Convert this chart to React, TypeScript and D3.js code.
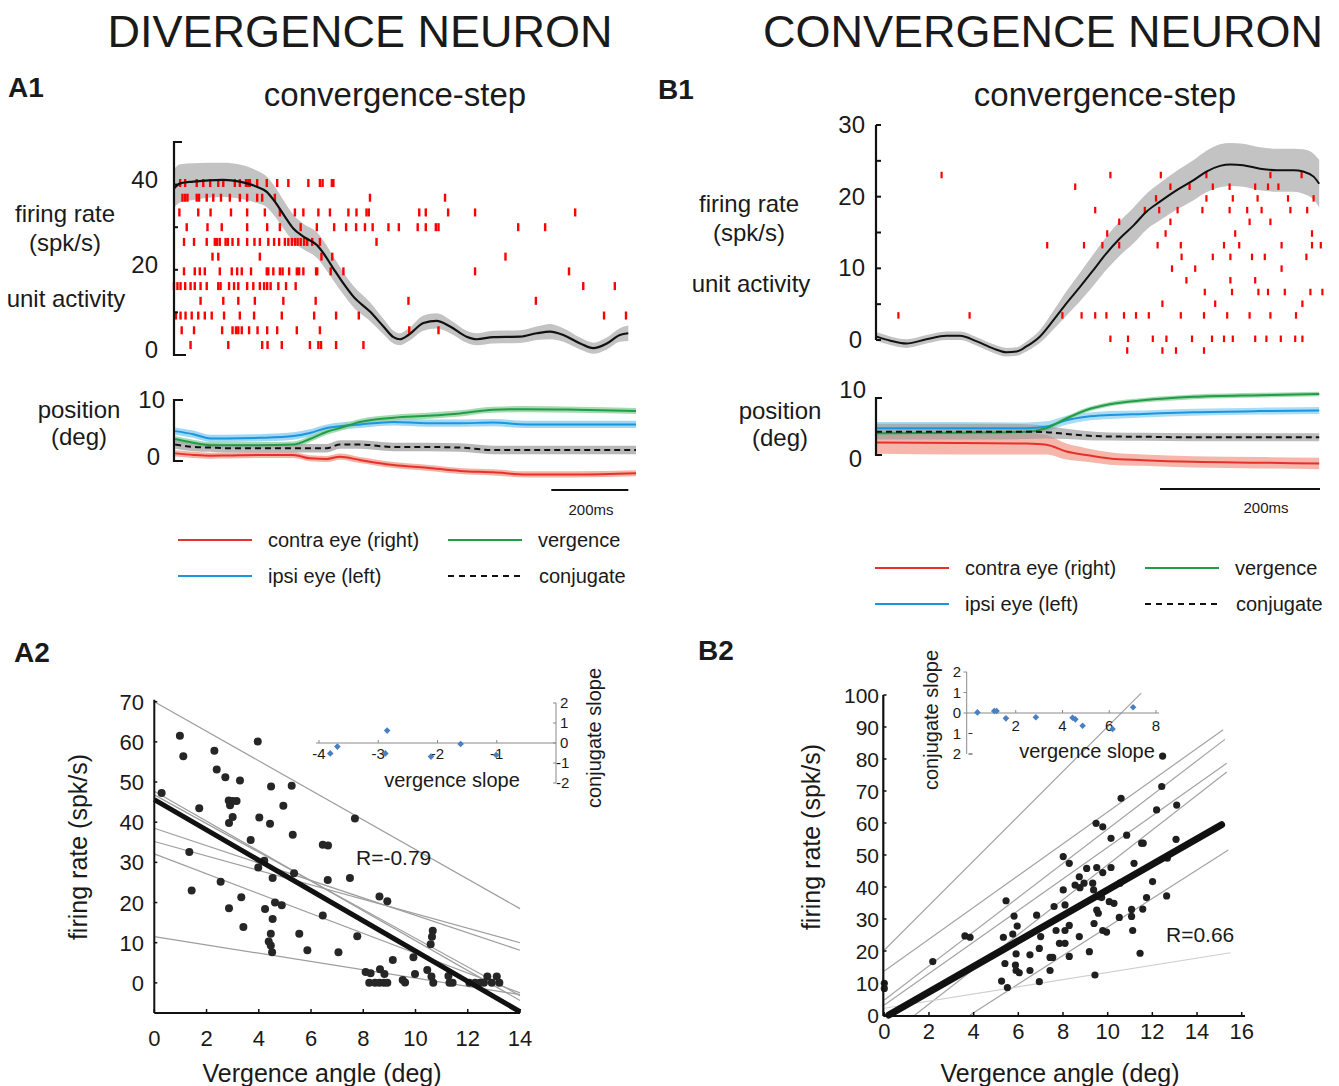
import React from 'react';
import * as d3 from 'd3';

const FONT = '"Liberation Sans", Arial, Helvetica, sans-serif';
const RED = '#e8302a';
const GREEN = '#1f9d48';
const BLUE = '#1b95dd';

// ---------- A1: divergence neuron, convergence step ----------
const a1RateTime = [0, 16, 50, 128, 171, 215, 241, 262, 288, 310, 336, 371, 388, 414, 440, 466, 509, 544, 570, 587, 609, 648, 682, 717, 760, 786, 829, 899, 942, 977, 1011, 1055, 1089, 1124, 1158, 1180];
const a1Rate = [39.1, 40.3, 40.7, 41.1, 40.7, 39.5, 38.3, 36.0, 32.5, 29.7, 27.8, 25.8, 23.9, 20.3, 16.8, 13.7, 10.2, 6.7, 4.2, 3.7, 4.7, 7.5, 8.0, 6.7, 4.3, 3.7, 4.2, 4.3, 5.1, 5.5, 4.7, 2.7, 1.6, 2.7, 4.7, 5.1];
const a1RateSem = [4.5, 4.5, 4.3, 4, 4, 3.8, 3.6, 3.5, 3.3, 3.2, 3, 3, 3, 2.8, 2.6, 2.5, 2.2, 1.8, 1.5, 1.4, 1.5, 1.8, 1.8, 1.6, 1.4, 1.4, 1.5, 1.5, 1.6, 1.8, 1.6, 1.4, 1.3, 1.4, 1.6, 1.8];
const a1Spikes = [
  [16, 29, 59, 76, 94, 115, 128, 158, 171, 187, 193, 197, 216, 241, 268, 297, 349, 379, 386, 410, 414],
  [22, 29, 35, 59, 65, 85, 102, 122, 145, 171, 190, 216, 229, 262, 509, 704],
  [14, 63, 95, 148, 190, 236, 275, 314, 336, 375, 405, 453, 474, 500, 506, 637, 654, 712, 782, 1042],
  [33, 87, 124, 190, 242, 275, 329, 371, 416, 447, 473, 496, 516, 557, 584, 633, 654, 680, 687, 894, 964],
  [26, 52, 85, 106, 112, 119, 134, 140, 152, 167, 190, 209, 223, 245, 260, 273, 288, 297, 306, 314, 321, 329, 338, 346, 359, 379, 526],
  [100, 115, 223, 383, 411, 861],
  [26, 54, 67, 80, 119, 150, 164, 176, 200, 241, 245, 258, 275, 282, 299, 319, 325, 336, 369, 372, 407, 440, 782, 1026],
  [0, 9, 17, 29, 43, 54, 69, 85, 115, 121, 143, 156, 167, 190, 206, 223, 234, 242, 251, 271, 291, 316, 1063, 1145],
  [69, 128, 167, 210, 284, 368, 609, 940],
  [5, 17, 30, 46, 63, 80, 98, 130, 171, 208, 280, 364, 421, 480, 1117, 1174],
  [20, 52, 125, 152, 161, 167, 176, 195, 217, 242, 268, 319, 379, 611, 687],
  [43, 141, 229, 243, 280, 353, 375, 382, 421, 492],
];
const a1PosTime = [3, 50, 94, 137, 223, 310, 353, 397, 431, 483, 570, 656, 743, 829, 916, 1046, 1200];
const a1Verg = [3.6, 3.0, 2.6, 2.6, 2.6, 2.7, 3.6, 4.8, 5.4, 6.4, 7.1, 7.4, 7.8, 8.4, 8.5, 8.4, 8.2];
const a1Ipsi = [4.9, 4.4, 3.7, 3.7, 3.8, 4.1, 4.6, 5.4, 5.7, 6.0, 6.4, 6.2, 6.2, 6.3, 6.0, 6.0, 6.0];
const a1Conj = [2.7, 2.3, 2.2, 2.1, 2.1, 2.1, 2.1, 2.1, 2.7, 2.7, 2.3, 2.3, 2.2, 1.8, 1.8, 1.8, 1.8];
const a1Contra = [1.25, 1.0, 0.87, 0.9, 0.98, 0.98, 0.44, 0.33, 0.71, 0.16, -0.66, -1.1, -1.64, -1.86, -2.2, -2.2, -2.0];

// ---------- B1: convergence neuron, convergence step ----------
const b1RateTime = [0, 18, 38, 63, 88, 105, 126, 147, 163, 176, 188, 205, 222, 238, 255, 272, 288, 305, 322, 338, 355, 376, 397, 413, 430, 443, 459, 480, 501, 522, 534, 547, 554];
const b1Rate = [0.5, -0.1, -0.5, 0.1, 0.6, 0.6, -0.2, -1.2, -1.7, -1.6, -0.9, 0.5, 2.8, 5.1, 7.4, 9.8, 12.1, 14.2, 16.0, 17.9, 19.3, 20.9, 22.3, 23.5, 24.3, 24.5, 24.4, 23.9, 23.7, 23.7, 23.5, 22.8, 21.8];
const b1RateSem = [0.6, 0.6, 0.6, 0.6, 0.6, 0.6, 0.6, 0.6, 0.6, 0.6, 0.7, 0.9, 1.3, 1.7, 2.0, 2.2, 2.3, 2.4, 2.5, 2.5, 2.6, 2.7, 2.8, 2.9, 3.0, 3.0, 3.0, 3.0, 3.0, 3.0, 3.1, 3.2, 3.3];
const b1Spikes = [
  [82, 293, 356, 413, 493, 532],
  [249, 368, 392, 421, 442, 474, 490, 503],
  [350, 413, 446, 477, 515, 547],
  [274, 336, 354, 377, 408, 442, 464, 482, 518, 539],
  [304, 368, 467, 493],
  [289, 362, 449, 545],
  [214, 260, 283, 304, 352, 381, 435, 454, 507, 545, 556],
  [382, 421, 443, 470, 486, 538],
  [370, 399, 507],
  [388, 443, 474],
  [411, 445, 478, 490, 511, 543, 558],
  [358, 424, 533],
  [28, 117, 233, 257, 274, 288, 310, 325, 341, 381, 410, 439, 467, 493, 525],
  [],
  [293, 315, 346, 363, 395, 420, 435, 446, 474, 488, 506, 524, 533],
  [314, 358, 375, 410],
];
const b1PosTime = [0, 105, 188, 213, 238, 263, 292, 334, 397, 480, 554];
const b1Verg = [3.8, 3.9, 4.1, 4.7, 6.4, 7.9, 8.9, 9.6, 10.2, 10.5, 10.7];
const b1Ipsi = [4.7, 4.7, 4.7, 5.0, 6.1, 6.7, 7.0, 7.2, 7.5, 7.7, 7.8];
const b1Conj = [4.1, 4.1, 4.1, 4.0, 3.7, 3.4, 3.25, 3.2, 3.1, 3.1, 3.1];
const b1Contra = [2.2, 2.1, 2.0, 1.8, 0.6, 0.0, -0.6, -0.9, -1.2, -1.35, -1.5];
const b1IpsiSem = [1.1, 1.1, 1.0, 0.9, 0.8, 0.7, 0.7, 0.6, 0.6, 0.6, 0.6];
const b1ConjSem = [1.4, 1.4, 1.3, 1.1, 0.9, 0.8, 0.7, 0.7, 0.7, 0.7, 0.7];
const b1ContraSem = [2.0, 2.0, 1.9, 1.7, 1.4, 1.2, 1.1, 1.0, 1.0, 1.0, 1.0];

// ---------- A2 / B2: firing rate vs vergence angle ----------
const a2Points: [number, number][] = [
  [0.28, 47.3], [0.98, 61.5], [1.11, 56.4], [1.72, 43.5], [1.34, 32.6], [1.43, 23.0], [2.30, 57.8], [2.39, 53.1], [2.72, 51.2], [2.85, 45.4],
  [2.90, 44.2], [3.00, 45.3], [3.15, 45.3], [3.00, 41.3], [2.86, 39.8], [3.28, 50.4], [2.54, 25.2], [2.86, 18.6], [3.33, 21.3], [3.41, 13.9],
  [3.96, 60.1], [4.02, 41.2], [3.69, 35.6], [3.98, 28.7], [4.21, 30.4], [4.47, 48.9], [4.43, 39.6], [4.53, 26.1], [4.24, 18.4], [4.62, 20.0],
  [4.88, 19.3], [4.46, 12.2], [4.38, 10.3], [4.46, 9.3], [4.51, 7.6], [4.53, 15.9], [4.94, 44.1], [5.26, 49.1], [5.30, 36.9], [5.35, 27.3],
  [5.55, 12.2], [5.86, 8.1], [6.45, 16.8], [6.45, 34.4], [6.65, 34.2], [6.64, 25.6], [7.05, 7.6], [7.49, 26.1], [7.68, 40.9], [7.77, 11.6],
  [8.09, 2.7], [8.28, 2.4], [8.23, 0], [8.45, 0], [8.62, 0], [8.79, 0], [8.92, 0], [8.64, 3.4], [8.81, 2.2], [8.62, 21.5],
  [8.92, 20.3], [9.13, 5.7], [9.51, 0.7], [9.60, 0.1], [9.92, 6.4], [9.98, 2.2], [10.45, 3.2], [10.61, 1.6], [10.68, 0], [10.58, 9.6],
  [10.63, 11.5], [10.66, 13.0], [11.26, 1.7], [11.30, 0], [11.42, 0], [12.06, 0], [12.28, 0], [12.47, 0], [12.62, 0], [12.75, 1.6],
  [12.92, 0], [13.11, 1.6], [13.21, 0],
];
// per-session fits: [intercept, slope]
const a2Fits: [number, number][] = [[70, -3.68], [38.5, -2.17], [35.2, -1.8], [32.1, -2.47], [47.7, -3.72], [46.8, -3.57], [11.5, -1.03]];
const a2PopFit: [number, number] = [45.6, -3.77];
const a2Inset: [number, number][] = [[-3.81, -0.52], [-3.69, -0.18], [-2.85, 0.62], [-2.88, -0.52], [-2.11, -0.68], [-1.61, -0.05], [-1.01, -0.6]];

const b2Points: [number, number][] = [
  [0, 9.9], [0, 8.3], [2.17, 16.7], [3.61, 24.7], [3.84, 24.3], [5.45, 35.7], [5.33, 24.3], [5.40, 16.1], [5.25, 10.6], [5.51, 8.6],
  [5.81, 30.9], [5.75, 25.3], [5.90, 19.1], [5.87, 15.6], [5.90, 13.9], [6.04, 13.2], [5.95, 27.8], [6.52, 18.8], [6.52, 13.9], [6.82, 31.2],
  [6.94, 20.8], [7.00, 24.5], [6.94, 10.4], [7.42, 13.9], [7.42, 18.0], [7.54, 18.0], [7.60, 33.9], [7.69, 26.4], [7.84, 22.4], [8.01, 49.5],
  [8.01, 39.1], [8.09, 34.4], [8.09, 26.4], [8.09, 22.4], [8.28, 47.4], [8.28, 28.0], [8.28, 18.3], [8.54, 40.6], [8.73, 43.2], [8.76, 39.8],
  [8.73, 24.5], [9.06, 45.8], [8.94, 41.2], [9.33, 41.2], [9.18, 19.8], [9.37, 39.1], [9.39, 28.6], [9.43, 12.5], [9.51, 46.1], [9.48, 59.9],
  [9.51, 32.8], [9.58, 31.8], [9.61, 37.0], [9.73, 36.7], [9.78, 44.5], [9.78, 58.8], [9.78, 26.4], [9.95, 25.9], [10.07, 35.4], [10.15, 55.2],
  [10.15, 46.1], [10.28, 34.9], [10.52, 30.5], [10.55, 41.2], [10.60, 67.7], [10.85, 56.2], [11.07, 33.0], [11.07, 30.8], [11.12, 26.4], [11.18, 47.4],
  [11.45, 19.3], [11.52, 53.7], [11.59, 53.7], [11.74, 36.7], [12.01, 41.7], [12.19, 64.1], [12.42, 71.4], [12.46, 80.9], [12.64, 37.2], [12.67, 49.0],
  [13.09, 65.6], [13.06, 54.9], [11.57, 33.1],
];
// per-session fits: [intercept, slope, xStart, xEnd]
const b2Fits: [number, number, number, number][] = [
  [20.3, 6.98, 0, 11.5], [13.75, 4.97, 0, 15.17], [4.7, 5.34, 0, 15.25], [3.1, 4.93, 0, 15.33],
  [-7.45, 5.44, 1.37, 15.33], [-17.1, 4.46, 3.84, 15.4],
];
const b2WeakFit: [number, number, number, number] = [2.1, 1.12, 0, 15.5];
const b2PopFit: [number, number, number, number] = [-0.8, 3.99, 0.2, 15.1];
const b2Inset: [number, number][] = [[0.36, 0.03], [1.08, 0.1], [1.18, 0.1], [1.58, -0.26], [2.86, -0.21], [4.43, -0.23], [4.55, -0.31], [4.86, -0.62], [6.14, -0.78], [7.02, 0.28]];

const a2XTicks = [0, 2, 4, 6, 8, 10, 12, 14];
const a2YTicks = [0, 10, 20, 30, 40, 50, 60, 70];
const b2XTicks = [0, 2, 4, 6, 8, 10, 12, 14, 16];
const b2YTicks = [0, 10, 20, 30, 40, 50, 60, 70, 80, 90, 100];

type Sc = d3.ScaleLinear<number, number>;

function trace(x: Sc, y: Sc, ts: number[], vs: number[]) {
  return d3.line<number>().x((_, i) => x(ts[i])).y((d) => y(d)).curve(d3.curveMonotoneX)(vs) || '';
}
function band(x: Sc, y: Sc, ts: number[], vs: number[], sem: number[] | number) {
  const s = (i: number) => (Array.isArray(sem) ? sem[i] : sem);
  return d3.area<number>().x((_, i) => x(ts[i])).y0((d, i) => y(d - s(i))).y1((d, i) => y(d + s(i))).curve(d3.curveMonotoneX)(vs) || '';
}

function Raster({ x, row, spikes, h, w }: { x: Sc; row: Sc; spikes: number[][]; h: number; w: number }) {
  return (
    <g fill="#ff0000">
      {spikes.map((r, i) => r.map((t, j) => (
        <rect key={i + '-' + j} x={x(t) - w / 2} y={row(i) - h / 2} width={w} height={h} />
      )))}
    </g>
  );
}

type Series = { v: number[]; sem: number[] | number; color: string; fill: string; op: number; dash?: string };

function Position({ x, y, ts, series }: { x: Sc; y: Sc; ts: number[]; series: Series[] }) {
  return (
    <g>
      {series.map((s, i) => (
        <path key={'b' + i} d={band(x, y, ts, s.v, s.sem)} fill={s.fill} fillOpacity={s.op} />
      ))}
      {series.map((s, i) => (
        <path key={'l' + i} d={trace(x, y, ts, s.v)} fill="none" stroke={s.color} strokeWidth={2} strokeDasharray={s.dash} />
      ))}
    </g>
  );
}

function Legend({ x0, x1, y0, y1 }: { x0: number; x1: number; y0: number; y1: number }) {
  const items = [
    { x: x0, y: y0, c: RED, t: 'contra eye (right)' },
    { x: x1, y: y0, c: GREEN, t: 'vergence' },
    { x: x0, y: y1, c: BLUE, t: 'ipsi eye (left)' },
    { x: x1, y: y1, c: '#111', t: 'conjugate', dash: '6,5' },
  ];
  return (
    <g fontSize={20}>
      {items.map((it) => (
        <g key={it.t}>
          <line x1={it.x} x2={it.x + 74} y1={it.y} y2={it.y} stroke={it.c} strokeWidth={2} strokeDasharray={it.dash} />
          <text x={it.x + (it.dash ? 91 : 90)} y={it.y + 7}>{it.t}</text>
        </g>
      ))}
    </g>
  );
}

export default function App() {
  // A1 scales
  const xA1 = d3.scaleLinear().domain([0, 1200]).range([174, 636]);
  const yA1 = d3.scaleLinear().domain([0, 50]).range([355, 142]);
  const yA1p = d3.scaleLinear().domain([0, 10]).range([461, 400]);
  const rowA1 = d3.scaleLinear().domain([0, 11]).range([183, 345]);
  // B1 scales
  const xB1 = d3.scaleLinear().domain([0, 555]).range([876, 1320]);
  const yB1 = d3.scaleLinear().domain([0, 30]).range([340, 125]);
  const yB1p = d3.scaleLinear().domain([0, 10]).range([455, 398]);
  const rowB1 = d3.scaleLinear().domain([0, 15]).range([175, 350.5]);
  // A2 scales
  const xA2 = d3.scaleLinear().domain([0, 14]).range([154.3, 520]);
  const yA2 = d3.scaleLinear().domain([-7.5, 70]).range([1013, 701.7]);
  const xA2i = d3.scaleLinear().domain([-4, 0]).range([319, 556]);
  const yA2i = d3.scaleLinear().domain([-2, 2]).range([783, 703]);
  // B2 scales
  const xB2 = d3.scaleLinear().domain([0, 16]).range([884.3, 1241.7]);
  const yB2 = d3.scaleLinear().domain([0, 100]).range([1015, 695]);
  const xB2i = d3.scaleLinear().domain([0, 8]).range([969, 1156]);
  const yB2i = d3.scaleLinear().domain([-2, 2]).range([754, 672]);

  const a1Series: Series[] = [
    { v: a1Contra, sem: 0.5, color: RED, fill: '#f3a596', op: 0.85 },
    { v: a1Ipsi, sem: 0.6, color: BLUE, fill: '#8fd0f2', op: 0.85 },
    { v: a1Verg, sem: 0.5, color: GREEN, fill: '#98d3a5', op: 0.85 },
    { v: a1Conj, sem: 0.7, color: '#111', fill: '#a6a6a6', op: 0.8, dash: '6,4' },
  ];
  const b1Series: Series[] = [
    { v: b1Contra, sem: b1ContraSem, color: RED, fill: '#f3a596', op: 0.8 },
    { v: b1Ipsi, sem: b1IpsiSem, color: BLUE, fill: '#8fd0f2', op: 0.75 },
    { v: b1Verg, sem: 0.4, color: GREEN, fill: '#98d3a5', op: 0.85 },
    { v: b1Conj, sem: b1ConjSem, color: '#111', fill: '#9a9a9a', op: 0.65, dash: '6,4' },
  ];

  const diamond = d3.symbol().type(d3.symbolSquare).size(22)() || '';

  return (
    <div style={{ position: 'absolute', left: 0, top: 0 }}>
      <svg width={1339} height={1086} style={{ display: 'block', background: '#fff' }} fontFamily={FONT} fill="#1a1a1a">
        {/* titles */}
        <text x={360} y={47} fontSize={45} textAnchor="middle">DIVERGENCE NEURON</text>
        <text x={1043} y={47} fontSize={45} textAnchor="middle">CONVERGENCE NEURON</text>
        <text x={8} y={97} fontSize={28} fontWeight="bold">A1</text>
        <text x={658} y={99} fontSize={28} fontWeight="bold">B1</text>
        <text x={14} y={662} fontSize={28} fontWeight="bold">A2</text>
        <text x={698} y={660} fontSize={28} fontWeight="bold">B2</text>
        <text x={395} y={106} fontSize={33} textAnchor="middle">convergence-step</text>
        <text x={1105} y={106} fontSize={33} textAnchor="middle">convergence-step</text>

        {/* ===== A1 ===== */}
        <g fontSize={24} textAnchor="middle">
          <text x={65} y={222}>firing rate</text>
          <text x={65} y={251}>(spk/s)</text>
          <text x={66} y={307}>unit activity</text>
          <text x={79} y={418}>position</text>
          <text x={79} y={445}>(deg)</text>
        </g>
        <path d={band(xA1, yA1, a1RateTime, a1Rate, a1RateSem)} fill="#c3c3c3" />
        <Raster x={xA1} row={rowA1} spikes={a1Spikes} h={8} w={2.4} />
        <path d={trace(xA1, yA1, a1RateTime, a1Rate)} fill="none" stroke="#111" strokeWidth={2.2} />
        <path d={`M${xA1(0) + 8},${yA1(50)}H${xA1(0)}V${yA1(0)}H${xA1(0) + 12}`} fill="none" stroke="#111" strokeWidth={2.2} />
        {[10, 20, 30, 40].map((v) => (
          <line key={v} x1={xA1(0)} x2={xA1(0) + 4} y1={yA1(v)} y2={yA1(v)} stroke="#111" strokeWidth={2} />
        ))}
        <g fontSize={24} textAnchor="end">
          {[0, 20, 40].map((v) => (
            <text key={v} x={158} y={yA1(v) + 3}>{v}</text>
          ))}
          <text x={165} y={yA1p(10) + 8}>10</text>
          <text x={160} y={yA1p(0) + 4}>0</text>
        </g>
        <Position x={xA1} y={yA1p} ts={a1PosTime} series={a1Series} />
        <path d={`M${xA1(0) + 9},${yA1p(10)}H${xA1(0)}V${yA1p(0)}H${xA1(0) + 9}`} fill="none" stroke="#111" strokeWidth={2.2} />
        <line x1={xA1(980)} x2={xA1(1180)} y1={490} y2={490} stroke="#111" strokeWidth={2} />
        <text x={591} y={515} fontSize={15} textAnchor="middle">200ms</text>
        <Legend x0={178} x1={448} y0={540} y1={576} />

        {/* ===== B1 ===== */}
        <g fontSize={24} textAnchor="middle">
          <text x={749} y={212}>firing rate</text>
          <text x={749} y={241}>(spk/s)</text>
          <text x={751} y={292}>unit activity</text>
          <text x={780} y={419}>position</text>
          <text x={780} y={446}>(deg)</text>
        </g>
        <path d={band(xB1, yB1, b1RateTime, b1Rate, b1RateSem)} fill="#c3c3c3" />
        <Raster x={xB1} row={rowB1} spikes={b1Spikes} h={6.5} w={2.2} />
        <path d={trace(xB1, yB1, b1RateTime, b1Rate)} fill="none" stroke="#111" strokeWidth={2} />
        <line x1={xB1(0)} x2={xB1(0)} y1={yB1(30)} y2={yB1(0)} stroke="#111" strokeWidth={2.2} />
        {d3.range(0, 31, 5).map((v) => (
          <line key={v} x1={xB1(0)} x2={xB1(0) + 5} y1={yB1(v)} y2={yB1(v)} stroke="#111" strokeWidth={2} />
        ))}
        <g fontSize={24} textAnchor="end">
          {[0, 10, 20, 30].map((v) => (
            <text key={v} x={v === 0 ? 862 : 865} y={yB1(v) + 8}>{v}</text>
          ))}
          <text x={866} y={yB1p(10)}>10</text>
          <text x={862} y={yB1p(0) + 12}>0</text>
        </g>
        <Position x={xB1} y={yB1p} ts={b1PosTime} series={b1Series} />
        <path d={`M${xB1(0) + 6},${yB1p(10)}H${xB1(0)}V${yB1p(0)}H${xB1(0) + 6}`} fill="none" stroke="#111" strokeWidth={2.2} />
        <line x1={xB1(355)} x2={xB1(555)} y1={489} y2={489} stroke="#111" strokeWidth={2} />
        <text x={1266} y={513} fontSize={15} textAnchor="middle">200ms</text>
        <Legend x0={875} x1={1145} y0={568} y1={604} />

        {/* ===== A2 ===== */}
        {a2Fits.map(([a, b], i) => (
          <line key={i} x1={xA2(0)} x2={xA2(14)} y1={yA2(a)} y2={yA2(a + b * 14)} stroke="#9e9e9e" strokeWidth={1.2} />
        ))}
        {a2Points.map(([vx, fr], i) => (
          <circle key={i} cx={xA2(vx)} cy={yA2(fr)} r={4} fill="#262626" />
        ))}
        <line x1={xA2(0)} x2={xA2(14)} y1={yA2(a2PopFit[0])} y2={yA2(a2PopFit[0] + a2PopFit[1] * 14)} stroke="#111" strokeWidth={5} />
        <line x1={xA2(0)} x2={xA2(0)} y1={yA2(-7.5)} y2={yA2(70) - 2} stroke="#111" strokeWidth={2} />
        <line x1={xA2(0)} x2={xA2(14)} y1={yA2(-7.5)} y2={yA2(-7.5)} stroke="#111" strokeWidth={2} />
        {a2XTicks.map((v) => (
          <g key={v}>
            <line x1={xA2(v)} x2={xA2(v)} y1={yA2(-7.5)} y2={yA2(-7.5) - 4} stroke="#111" strokeWidth={1.5} />
            <text x={xA2(v)} y={1046} fontSize={22} textAnchor="middle">{v}</text>
          </g>
        ))}
        {a2YTicks.map((v) => (
          <g key={v}>
            <line x1={xA2(0)} x2={xA2(0) + 3} y1={yA2(v)} y2={yA2(v)} stroke="#111" strokeWidth={1.5} />
            <text x={144} y={yA2(v) + 8} fontSize={22} textAnchor="end">{v}</text>
          </g>
        ))}
        <text x={322} y={1082} fontSize={25} textAnchor="middle">Vergence angle (deg)</text>
        <text transform="translate(87,847) rotate(-90)" fontSize={25} textAnchor="middle">firing rate (spk/s)</text>
        <text x={356} y={865} fontSize={21}>R=-0.79</text>
        {/* A2 inset */}
        <g stroke="#8a8a8a" strokeWidth={1}>
          <line x1={316} x2={xA2i(0)} y1={yA2i(0)} y2={yA2i(0)} />
          <line x1={xA2i(0)} x2={xA2i(0)} y1={yA2i(2)} y2={yA2i(-2)} />
          {[-4, -3, -2, -1].map((v) => (
            <line key={v} x1={xA2i(v)} x2={xA2i(v)} y1={yA2i(0)} y2={yA2i(0) - 3} />
          ))}
          {[-2, -1, 0, 1, 2].map((v) => (
            <line key={v} x1={xA2i(0) - 3} x2={xA2i(0)} y1={yA2i(v)} y2={yA2i(v)} />
          ))}
        </g>
        <g fontSize={15}>
          {[-4, -3, -2, -1].map((v) => (
            <text key={v} x={xA2i(v)} y={yA2i(0) + 16} textAnchor="middle">{v}</text>
          ))}
          {[-2, -1, 0, 1, 2].map((v) => (
            <text key={v} x={v < 0 ? 556 : 560} y={yA2i(v) + 5}>{v}</text>
          ))}
        </g>
        {a2Inset.map(([vs, cs], i) => (
          <path key={i} d={diamond} transform={`translate(${xA2i(vs)},${yA2i(cs)}) rotate(45)`} fill="#4a7fc1" />
        ))}
        <text x={452} y={787} fontSize={20} textAnchor="middle">vergence slope</text>
        <text transform="translate(601,738) rotate(-90)" fontSize={20} textAnchor="middle">conjugate slope</text>

        {/* ===== B2 ===== */}
        <clipPath id="b2clip">
          <rect x={884} y={660} width={400} height={356} />
        </clipPath>
        <g clipPath="url(#b2clip)">
          {b2Fits.map(([a, b, x0, x1], i) => (
            <line key={i} x1={xB2(x0)} x2={xB2(x1)} y1={yB2(a + b * x0)} y2={yB2(a + b * x1)} stroke="#a3a3a3" strokeWidth={1.2} />
          ))}
          <line x1={xB2(b2WeakFit[2])} x2={xB2(b2WeakFit[3])} y1={yB2(b2WeakFit[0] + b2WeakFit[1] * b2WeakFit[2])} y2={yB2(b2WeakFit[0] + b2WeakFit[1] * b2WeakFit[3])} stroke="#cfcfcf" strokeWidth={1.2} />
        </g>
        {b2Points.map(([vx, fr], i) => (
          <circle key={i} cx={xB2(vx)} cy={yB2(fr)} r={3.6} fill="#1f1f1f" />
        ))}
        <line x1={xB2(b2PopFit[2])} x2={xB2(b2PopFit[3])} y1={yB2(b2PopFit[0] + b2PopFit[1] * b2PopFit[2])} y2={yB2(b2PopFit[0] + b2PopFit[1] * b2PopFit[3])} stroke="#111" strokeWidth={7} strokeLinecap="round" />
        <line x1={883.3} x2={883.3} y1={1016} y2={yB2(100)} stroke="#111" strokeWidth={2.2} />
        <line x1={883.3} x2={1245} y1={1016} y2={1016} stroke="#111" strokeWidth={2.2} />
        {b2XTicks.map((v) => (
          <g key={v}>
            <line x1={xB2(v)} x2={xB2(v)} y1={1016} y2={1012} stroke="#111" strokeWidth={1.5} />
            <text x={xB2(v)} y={1039} fontSize={22} textAnchor="middle">{v}</text>
          </g>
        ))}
        {b2YTicks.map((v) => (
          <g key={v}>
            <line x1={883.3} x2={886.5} y1={yB2(v)} y2={yB2(v)} stroke="#111" strokeWidth={1.5} />
            <text x={879} y={yB2(v) + 8} fontSize={21} textAnchor="end">{v}</text>
          </g>
        ))}
        <text x={1060} y={1082} fontSize={25} textAnchor="middle">Vergence angle (deg)</text>
        <text transform="translate(820,837) rotate(-90)" fontSize={25} textAnchor="middle">firing rate (spk/s)</text>
        <text x={1166} y={942} fontSize={21}>R=0.66</text>
        {/* B2 inset */}
        <g stroke="#8a8a8a" strokeWidth={1}>
          <line x1={966.7} x2={1159} y1={yB2i(0)} y2={yB2i(0)} />
          <line x1={966.7} x2={966.7} y1={yB2i(2)} y2={yB2i(-2)} />
          {[2, 4, 6, 8].map((v) => (
            <line key={v} x1={xB2i(v)} x2={xB2i(v)} y1={yB2i(0)} y2={yB2i(0) - 3} />
          ))}
          {[2, 1, 0].map((v) => (
            <line key={v} x1={963.5} x2={966.7} y1={yB2i(v)} y2={yB2i(v)} />
          ))}
          {[-1, -2].map((v) => (
            <line key={v} x1={968.5} x2={972.5} y1={yB2i(v)} y2={yB2i(v)} stroke="#333" />
          ))}
        </g>
        <g fontSize={15}>
          {[2, 4, 6, 8].map((v) => (
            <text key={v} x={xB2i(v)} y={yB2i(0) + 18} textAnchor="middle">{v}</text>
          ))}
          {[2, 1, 0, -1, -2].map((v) => (
            <text key={v} x={961} y={yB2i(v) + 5} textAnchor="end">{Math.abs(v)}</text>
          ))}
        </g>
        {b2Inset.map(([vs, cs], i) => (
          <path key={i} d={diamond} transform={`translate(${xB2i(vs)},${yB2i(cs)}) rotate(45)`} fill="#4a7fc1" />
        ))}
        <text x={1087} y={758} fontSize={20} textAnchor="middle">vergence slope</text>
        <text transform="translate(938,720) rotate(-90)" fontSize={20} textAnchor="middle">conjugate slope</text>
      </svg>
    </div>
  );
}
